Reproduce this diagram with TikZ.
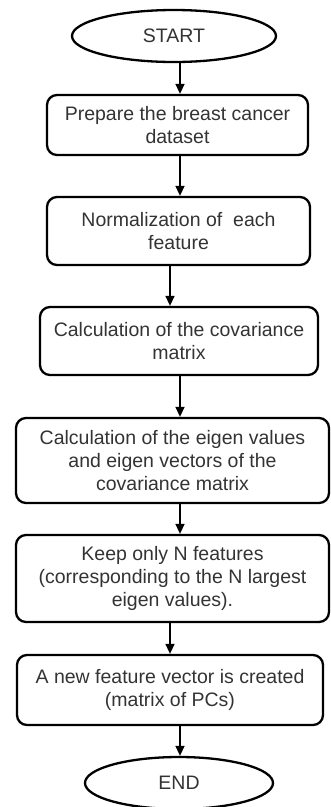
\documentclass[tikz,border=0pt]{standalone}
\usepackage{fontspec}
\setmainfont{Liberation Sans}
\usetikzlibrary{shapes.geometric,arrows.meta}

\begin{document}
\begin{tikzpicture}[x=1pt,y=1pt]
\tikzstyle{every node}+=[inner sep=0pt, text=black!80, font=\fontsize{19.5}{23}\selectfont, align=center]
\tikzstyle{term}=[draw, ellipse, line width=2.3pt, minimum height=52]
\tikzstyle{proc}=[draw, rounded corners=10pt, line width=2.3pt]
\tikzstyle{arr}=[line width=1.5pt, -{Triangle[length=10pt,width=9pt]}]
\clip (0,0) rectangle (331,-807);
\node[term, minimum width=204] (start) at (174,-36) {START};
\node[proc, minimum width=261, minimum height=60] (prep) at (177.5,-125) {Prepare the breast cancer\\dataset};
\node[proc, minimum width=263, minimum height=68] (norm) at (178.5,-231) {Normalization of\ \ each\\feature};
\node[proc, minimum width=278, minimum height=68] (cov) at (179,-341) {Calculation of the covariance\\matrix};
\node[proc, minimum width=313, minimum height=85] (eig) at (172.5,-460.5) {Calculation of the eigen values\\and eigen vectors of the\\covariance matrix};
\node[proc, minimum width=313, minimum height=87] (keep) at (172.5,-578.5) {Keep only N features\\(corresponding to the N largest\\eigen values).};
\node[proc, minimum width=306, minimum height=70] (pcs) at (170,-690) {A new feature vector is created\\(matrix of PCs)};
\node[term, minimum width=188] (end) at (179,-783) {END};
\draw[arr] ([xshift=6pt]start.south) -- ([xshift=6pt]start.south |- prep.north);
\draw[arr] ([xshift=2.5pt]prep.south) -- ([xshift=2.5pt]prep.south |- norm.north);
\draw[arr] ([xshift=-8.5pt]norm.south) -- ([xshift=-8.5pt]norm.south |- cov.north);
\draw[arr] ([xshift=1pt]cov.south) -- ([xshift=1pt]cov.south |- eig.north);
\draw[arr] ([xshift=7.5pt]eig.south) -- ([xshift=7.5pt]eig.south |- keep.north);
\draw[arr] (keep.south -| pcs.north) -- (pcs.north);
\draw[arr] ([xshift=10pt]pcs.south) -- ([xshift=10pt]pcs.south |- end.north);
\end{tikzpicture}
\end{document}
